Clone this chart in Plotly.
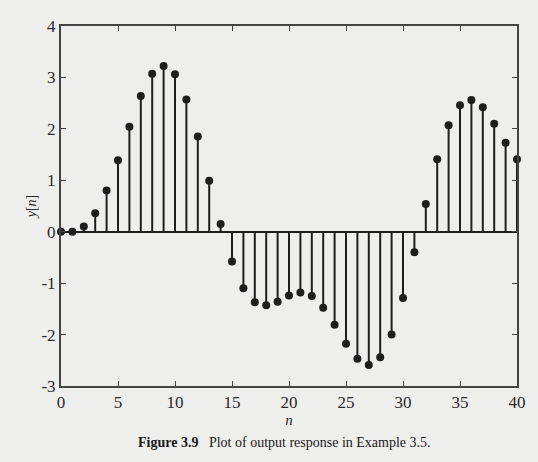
import plotly.graph_objects as go

n = list(range(41))
y = [0.0, 0.0, 0.10, 0.36, 0.80, 1.39, 2.04, 2.64, 3.07, 3.22,
     3.06, 2.57, 1.85, 0.99, 0.15, -0.58, -1.10, -1.37, -1.43, -1.36,
     -1.24, -1.18, -1.25, -1.48, -1.81, -2.18, -2.47, -2.59, -2.44, -2.00,
     -1.29, -0.40, 0.54, 1.41, 2.07, 2.46, 2.56, 2.42, 2.10, 1.73, 1.41]

x_ticks = [0, 5, 10, 15, 20, 25, 30, 35, 40]
y_ticks = [-3, -2, -1, 0, 1, 2, 3, 4]
y_tick_text = ["-3", "-2", "-1", "0", "1", "2", "3", "4"]

stem_x, stem_y = [], []
for xi, yi in zip(n, y):
    stem_x += [xi, xi, None]
    stem_y += [0, yi, None]

ink = "#1e1e1e"
bg = "#eeeeec"
font = "'Liberation Serif', 'Times New Roman', serif"

fig = go.Figure()
fig.add_trace(go.Scatter(x=stem_x, y=stem_y, mode="lines",
                         line=dict(color=ink, width=2), hoverinfo="skip",
                         showlegend=False, cliponaxis=False))
fig.add_trace(go.Scatter(x=n, y=y, mode="markers",
                         marker=dict(color=ink, size=8), showlegend=False,
                         cliponaxis=False))

fig.update_layout(
    width=538, height=462,
    margin=dict(l=61, r=19, t=26, b=76),
    paper_bgcolor=bg, plot_bgcolor=bg,
    font=dict(family=font, size=17, color="#2a2a2a"),
    xaxis=dict(range=[0, 40], tickvals=x_ticks, ticks="inside", ticklen=5,
               tickcolor="#444", showgrid=False, zeroline=False,
               showline=True, linecolor="#444", linewidth=2, mirror="ticks",
               title=dict(text="<i>n</i>", standoff=0,
                          font=dict(size=15))),
    yaxis=dict(range=[-3, 4], tickvals=y_ticks, ticktext=y_tick_text,
               ticks="inside", ticklen=5,
               tickcolor="#444", showgrid=False, zeroline=True,
               zerolinecolor=ink, zerolinewidth=2,
               showline=True, linecolor="#444", linewidth=2, mirror="ticks",
               title=dict(text="<i>y</i>[<i>n</i>]", standoff=2,
                          font=dict(size=14))),
)
fig.add_annotation(xref="paper", yref="paper", x=0.49, y=-0.13,
                   xanchor="center", yanchor="top", showarrow=False,
                   text="<b>Figure 3.9</b>&nbsp;&nbsp;&nbsp;Plot of output response in Example 3.5.",
                   font=dict(family=font, size=14, color="#1a1a1a"))

fig.write_html(
    "out.html",
    config={"displayModeBar": False},
    post_script="document.body.style.margin='0';document.body.style.background='#eeeeec';",
)
